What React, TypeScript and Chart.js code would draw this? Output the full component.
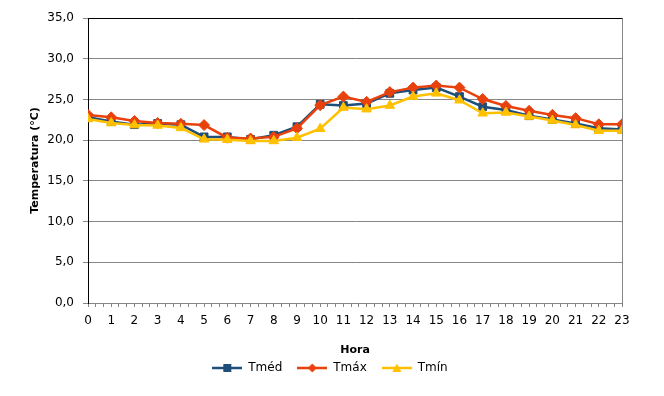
import React, { useEffect, useRef } from 'react';
import { Chart, registerables } from 'chart.js';

Chart.register(...registerables);

const hours = [0, 1, 2, 3, 4, 5, 6, 7, 8, 9, 10, 11, 12, 13, 14, 15, 16, 17, 18, 19, 20, 21, 22, 23];
const tMed = [22.8, 22.3, 21.9, 22.05, 21.9, 20.4, 20.4, 20.1, 20.6, 21.65, 24.4, 24.25, 24.5, 25.75, 26.15, 26.45, 25.35, 24.1, 23.7, 23.0, 22.55, 22.05, 21.45, 21.3];
const tMax = [23.1, 22.8, 22.35, 22.1, 22.0, 21.85, 20.3, 20.2, 20.4, 21.45, 24.3, 25.35, 24.7, 25.9, 26.45, 26.7, 26.45, 25.05, 24.2, 23.6, 23.1, 22.7, 21.95, 21.95];
const tMin = [22.6, 22.1, 21.85, 21.8, 21.5, 20.1, 20.05, 19.9, 19.9, 20.3, 21.4, 24.0, 23.8, 24.25, 25.35, 25.75, 24.9, 23.3, 23.4, 22.9, 22.4, 21.85, 21.15, 21.15];
const seriesNames = ['Tméd', 'Tmáx', 'Tmín'];
const seriesColors = ['#1F4E79', '#E8410C', '#FFC000'];
const seriesShapes = ['rect', 'rectRot', 'triangle'];
const yTitle = 'Temperatura (°C)';
const xTitle = 'Hora';

const FONT = "'DejaVu Sans', Verdana, sans-serif";

function legendIcon(color: string, shape: string) {
  const c = document.createElement('canvas');
  c.width = 30;
  c.height = 12;
  const ctx = c.getContext('2d')!;
  ctx.strokeStyle = color;
  ctx.lineWidth = 2.5;
  ctx.beginPath();
  ctx.moveTo(0, 6);
  ctx.lineTo(30, 6);
  ctx.stroke();
  ctx.fillStyle = color;
  ctx.beginPath();
  if (shape === 'rect') {
    ctx.rect(11, 2, 8, 8);
  } else if (shape === 'rectRot') {
    ctx.moveTo(15, 1.5);
    ctx.lineTo(19.5, 6);
    ctx.lineTo(15, 10.5);
    ctx.lineTo(10.5, 6);
    ctx.closePath();
  } else {
    ctx.moveTo(15, 1.5);
    ctx.lineTo(19.5, 10);
    ctx.lineTo(10.5, 10);
    ctx.closePath();
  }
  ctx.fill();
  return c;
}

const frame = {
  id: 'frame',
  afterLayout(chart: any) {
    const lg = chart.legend;
    if (lg) {
      const dx = 19;
      const dy = -12;
      lg.left += dx;
      lg.right += dx;
      lg.top += dy;
      lg.bottom += dy;
    }
  },
  beforeDatasetsDraw(chart: any) {
    const { ctx, chartArea } = chart;
    const l = Math.round(chartArea.left) + 0.5;
    const r = Math.round(chartArea.right) + 0.5;
    const t = Math.round(chartArea.top) + 0.5;
    const b = Math.round(chartArea.bottom) + 0.5;
    ctx.save();
    ctx.lineWidth = 1;
    ctx.strokeStyle = '#868686';
    ctx.beginPath();
    ctx.moveTo(r, t);
    ctx.lineTo(r, b);
    ctx.stroke();
    ctx.strokeStyle = '#000000';
    ctx.beginPath();
    ctx.moveTo(l, t);
    ctx.lineTo(r, t);
    ctx.stroke();
    ctx.restore();
  },
};

export default function App() {
  const ref = useRef<HTMLCanvasElement>(null);
  useEffect(() => {
    const series = [tMed, tMax, tMin];
    const icons = seriesColors.map((c, i) => legendIcon(c, seriesShapes[i]));
    const datasets = series.map((vals, i) => ({
      label: seriesNames[i],
      data: hours.map((h, j) => ({ x: h, y: vals[j] })),
      borderColor: seriesColors[i],
      backgroundColor: seriesColors[i],
      pointBackgroundColor: seriesColors[i],
      pointBorderColor: seriesColors[i],
      pointStyle: seriesShapes[i],
      pointRadius: 5.5,
      pointBorderWidth: 1,
      borderWidth: 2.5,
      tension: 0,
      order: 3 - i,
    }));
    const chart = new Chart(ref.current!, {
      type: 'line',
      data: { datasets },
      plugins: [frame],
      options: {
        responsive: false,
        animation: false,
        events: [],
        layout: { padding: { top: 18, right: 42, left: 0, bottom: 0 } },
        plugins: {
          tooltip: { enabled: false },
          legend: {
            position: 'bottom',
            labels: {
              usePointStyle: true,
              pointStyleWidth: 30,
              padding: 15,
              color: '#000',
              font: { family: FONT, size: 12 },
              generateLabels: () =>
                seriesNames.map((n, i) => ({
                  text: n,
                  pointStyle: icons[i],
                  fillStyle: seriesColors[i],
                  strokeStyle: seriesColors[i],
                  lineWidth: 0,
                  hidden: false,
                  datasetIndex: i,
                  fontColor: '#000',
                })),
            },
          },
        },
        scales: {
          x: {
            type: 'linear',
            min: 0,
            max: 23,
            ticks: {
              stepSize: 1 / 3,
              autoSkip: false,
              maxRotation: 0,
              minRotation: 0,
              padding: 7,
              color: '#000',
              font: { family: FONT, size: 12 },
              callback: (v: any) => (Math.abs(v - Math.round(v)) < 1e-6 ? String(Math.round(v)) : ''),
            },
            grid: { drawOnChartArea: false, drawTicks: true, tickLength: 4, color: '#868686' },
            border: { color: '#868686', width: 1 },
            title: {
              display: true,
              text: xTitle,
              color: '#000',
              font: { family: FONT, size: 11, weight: 'bold' },
              padding: { top: 8, bottom: 2.4 },
            },
          },
          y: {
            min: 0,
            max: 35,
            ticks: {
              stepSize: 5,
              padding: 9,
              color: '#000',
              font: { family: FONT, size: 12 },
              callback: (v: any) => Number(v).toFixed(1).replace('.', ','),
            },
            grid: { color: '#868686', tickLength: 5, drawTicks: true },
            border: { color: '#000', width: 1 },
            title: {
              display: true,
              text: yTitle,
              color: '#000',
              font: { family: FONT, size: 11, weight: 'bold' },
              padding: { top: 29, bottom: 0 },
            },
            afterFit: (s: any) => {
              s.width = 88;
            },
          },
        },
      } as any,
    });
    return () => chart.destroy();
  }, []);
  return (
    <div style={{ position: 'fixed', left: 0, top: 0, width: 664, height: 396, background: '#fff' }}>
      <canvas ref={ref} width={664} height={396} style={{ width: 664, height: 396 }} />
    </div>
  );
}
